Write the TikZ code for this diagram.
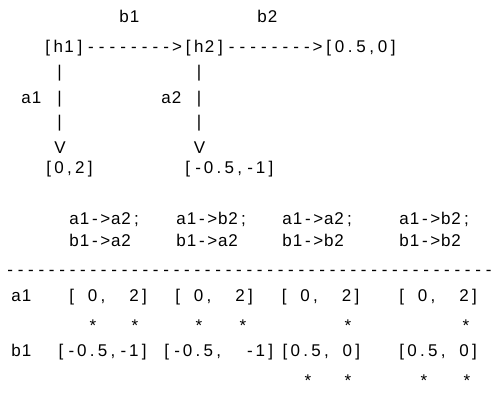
\documentclass[tikz,border=0pt]{standalone}
\usepackage{fontspec}
\newfontfamily\asc{Liberation Sans}
\usepackage{tikz}
\usetikzlibrary{positioning}

% fixed pitch text: every character in its own cell, _ is a blank cell
\newdimen\monopitch \monopitch=10.4pt
\newcommand\widepitch{\monopitch=10.75pt}
\ExplSyntaxOn
\NewDocumentCommand \mono { m }
  {
    \str_map_inline:nn {#1}
      {
        \str_if_eq:nnTF {##1} {_}
          { \hbox_to_wd:nn { \monopitch } { } }
          { \hbox_to_wd:nn { \monopitch } { \hfil ##1 \hfil } }
      }
  }
\ExplSyntaxOff

\begin{document}
\begin{tikzpicture}[
    x=1pt, y=-1pt,          % 1 unit = 1 pixel, y downwards
    txt/.style={font=\fontsize{17}{20}\selectfont\asc, inner sep=0pt, anchor=base west},
    toprow/.style={txt, font=\fontsize{17}{20}\selectfont\asc\widepitch},
    bar/.style={txt, anchor=base},
    star/.style={txt, anchor=base}
]
    \useasboundingbox (0,0) rectangle (497,403);

    % --- 1. top graph ---
    \node [txt] (lb1) at (118.8, 23) {\mono{b1}};
    \node [txt] (lb2) at (256.8, 23) {\mono{b2}};
    \node [toprow] (h1) at (42.1, 53)  {\mono{[h1]}};
    \node [toprow] (e1) at (h1.base east) {\mono{-------->}};
    \node [toprow] (h2) at (e1.base east) {\mono{[h2]}};
    \node [toprow] (e2) at (h2.base east) {\mono{-------->}};
    \node [toprow] (t2) at (e2.base east) {\mono{[0.5,0]}};

    % left branch
    \node [bar] (v1a) at (59.5, 78)  {\mono{|}};
    \node [bar] (v1b) at (59.5, 104) {\mono{|}};
    \node [txt] (la1) at (20.8, 104) {\mono{a1}};
    \node [bar] (v1c) at (59.5, 128) {\mono{|}};
    \node [bar] (v1d) at (59.5, 154) {\mono{V}};
    \node [txt] (t1)  at (43.3, 174) {\mono{[0,2]}};

    % right branch
    \node [bar] (v2a) at (199, 78)  {\mono{|}};
    \node [bar] (v2b) at (199, 104) {\mono{|}};
    \node [txt] (la2) at (160.8, 104) {\mono{a2}};
    \node [bar] (v2c) at (199, 128) {\mono{|}};
    \node [bar] (v2d) at (199, 154) {\mono{V}};
    \node [txt] (t3)  at (182.3, 174) {\mono{[-0.5,-1]}};

    % --- 2. column heads ---
    \node [txt] (c1a) at (68.8, 224)  {\mono{a1->a2;}};
    \node [txt] (c2a) at (175.8, 224) {\mono{a1->b2;}};
    \node [txt] (c3a) at (281.8, 224) {\mono{a1->a2;}};
    \node [txt] (c4a) at (398.8, 224) {\mono{a1->b2;}};
    \node [txt] (c1b) at (68.8, 246)  {\mono{b1->a2}};
    \node [txt] (c2b) at (175.8, 246) {\mono{b1->a2}};
    \node [txt] (c3b) at (281.8, 246) {\mono{b1->b2}};
    \node [txt] (c4b) at (398.8, 246) {\mono{b1->b2}};

    % --- 3. separator ---
    \node [txt] (sep) at (4.8, 275) {\foreach \i in {1,...,47}{\mono{-}}};

    % --- 4. table rows ---
    \node [txt] (ra) at (10.8, 301) {\mono{a1}};
    \node [txt] (a1c1) at (66.3, 301)  {\mono{[_0,__2]}};
    \node [txt] (a1c2) at (172.3, 301) {\mono{[_0,__2]}};
    \node [txt] (a1c3) at (278.8, 301) {\mono{[_0,__2]}};
    \node [txt] (a1c4) at (396.3, 301) {\mono{[_0,__2]}};
    \foreach \x [count=\k] in {93, 135, 199, 243, 348, 466}
        \node [star] (sa\k) at (\x, 331) {\mono{*}};

    \node [txt] (rb) at (10.8, 356) {\mono{b1}};
    \node [txt] (b1c1) at (55.6, 356)  {\mono{[-0.5,-1]}};
    \node [txt] (b1c2) at (161.3, 356) {\mono{[-0.5,__-1]}};
    \node [txt] (b1c3) at (279.6, 356) {\mono{[0.5,_0]}};
    \node [txt] (b1c4) at (396.3, 356) {\mono{[0.5,_0]}};
    \foreach \x [count=\k] in {308, 348, 424, 467}
        \node [star] (sb\k) at (\x, 386) {\mono{*}};

\end{tikzpicture}
\end{document}
